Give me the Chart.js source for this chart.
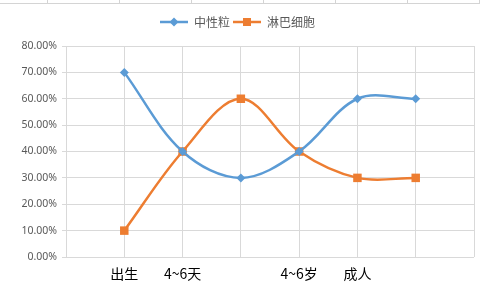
<!DOCTYPE html>
<html>
<head>
<meta charset="utf-8">
<script src="https://cdn.jsdelivr.net/npm/chart.js@4/dist/chart.umd.min.js"></script>
<style>
  html, body { margin: 0; padding: 0; background: #fff; }
  #wrap { position: relative; width: 480px; height: 290px; }
  /* spreadsheet cells peeking above the chart object */
  #cells {
    position: absolute; left: 0; top: 0; width: 480px; height: 3px;
    border-bottom: 1px solid #d4d4d4;
    background-image: repeating-linear-gradient(90deg, #d4d4d4 0 1px, transparent 1px 72px);
    background-position: 47px 0;
  }
</style>
</head>
<body>
<div id="wrap">
  <canvas id="chart" width="480" height="290"></canvas>
  <div id="cells"></div>
</div>
<script>
// values (percent)
const categories = ['出生', '4~6天', '', '4~6岁', '成人', ''];
const seriesNames = ['中性粒', '淋巴细胞'];
const neutrophils = [70, 40, 30, 40, 60, 60];
const lymphocytes = [10, 40, 60, 40, 30, 30];
const yMax = 80;
const yStep = 10;

const BLUE = '#5B9BD5';
const ORANGE = '#ED7D31';

// Excel-style legend key: short line with the marker on it
function legendKey(color, style) {
    const c = document.createElement('canvas');
    c.width = 28;
    c.height = 10;
    const g = c.getContext('2d');
    g.strokeStyle = color;
    g.lineWidth = 2.5;
    g.beginPath();
    g.moveTo(0, 5);
    g.lineTo(28, 5);
    g.stroke();
    g.fillStyle = color;
    g.beginPath();
    if (style === 'diamond') {
        g.moveTo(14, 0.5);
        g.lineTo(18.5, 5);
        g.lineTo(14, 9.5);
        g.lineTo(9.5, 5);
    } else {
        g.rect(10, 1, 8, 8);
    }
    g.fill();
    return c;
}
const legendKeys = [legendKey(BLUE, 'diamond'), legendKey(ORANGE, 'square')];

const toPoints = arr => arr.map((v, i) => ({ x: i + 1, y: v }));

const legendSpacer = {
    id: 'legendSpacer',
    beforeInit(chart) {
        const fit = chart.legend.fit;
        chart.legend.fit = function () {
            fit.bind(chart.legend)();
            this.height += 8;
        };
    }
};

new Chart(document.getElementById('chart'), {
    type: 'line',
    data: {
        datasets: [
            {
                label: seriesNames[0],
                data: toPoints(neutrophils),
                borderColor: BLUE,
                backgroundColor: BLUE,
                borderWidth: 2.5,
                pointStyle: 'rectRot',
                pointRadius: 4.5,
                pointBorderWidth: 0,
                tension: 0.35
            },
            {
                label: seriesNames[1],
                data: toPoints(lymphocytes),
                borderColor: ORANGE,
                backgroundColor: ORANGE,
                borderWidth: 2.5,
                pointStyle: 'rect',
                pointRadius: 6,
                pointBorderWidth: 0,
                tension: 0.35
            }
        ]
    },
    options: {
        responsive: false,
        animation: false,
        layout: { padding: { top: 13, right: 5, left: 0, bottom: 0 } },
        plugins: {
            tooltip: { enabled: false },
            legend: {
                position: 'top',
                labels: {
                    usePointStyle: true,
                    pointStyleWidth: 28,
                    padding: 3,
                    color: '#595959',
                    font: { family: "'Noto Sans CJK SC', 'Noto Sans'", size: 12 },
                    generateLabels(chart) {
                        return Chart.defaults.plugins.legend.labels.generateLabels(chart).map((item, i) => {
                            item.pointStyle = legendKeys[i];
                            return item;
                        });
                    }
                }
            }
        },
        scales: {
            x: {
                type: 'linear',
                min: 0,
                max: categories.length + 1,
                afterFit(scale) {
                    scale.height = 33;
                    scale.paddingRight = 0;
                },
                grid: { color: '#d9d9d9', lineWidth: 1, drawTicks: false },
                border: { display: false },
                ticks: {
                    stepSize: 1,
                    padding: 8,
                    color: '#000',
                    font: { family: "'Noto Sans CJK SC', 'Noto Sans'", size: 14 },
                    callback: value => categories[value - 1] || ''
                }
            },
            y: {
                min: 0,
                max: yMax,
                afterFit(scale) { scale.width = 66; },
                grid: { color: '#d9d9d9', lineWidth: 1, tickLength: 4 },
                border: { display: false },
                ticks: {
                    stepSize: yStep,
                    padding: 5,
                    color: '#595959',
                    font: { family: "'Noto Sans', 'Liberation Sans'", size: 10.5 },
                    callback: value => value.toFixed(2) + '%'
                }
            }
        }
    },
    plugins: [legendSpacer]
});
</script>
</body>
</html>
